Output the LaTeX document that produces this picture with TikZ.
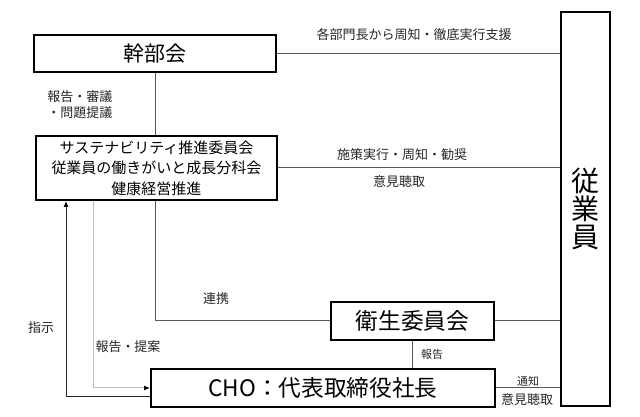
\documentclass[tikz,border=0pt]{standalone}
\usepackage{fontspec}
\setmainfont{Noto Sans CJK JP}
\usetikzlibrary{arrows.meta, positioning, calc}

\tikzset{
  box/.style={draw, line width=1.5pt, inner sep=0pt, align=center, fill=white},
  link/.style={draw=black!65, line width=0.75pt},
  tip/.style={-{Latex[length=4.5pt, width=3.75pt, color=black]}},
  lbl/.style={inner sep=0pt, text=black!85, font=\fontsize{9.75}{12}\selectfont},
}

\begin{document}
\begin{tikzpicture}[>=latex, x=0.75pt, y=-0.75pt]
        \path[use as bounding box] (0,0) rectangle (640,417);
        % boxes
        \node[box, minimum width=181.5pt, minimum height=27.75pt, font=\fontsize{15.75}{18}\selectfont] (kanbu) at (155,53.5) {幹部会};
        \node[box, minimum width=180.75pt, minimum height=48pt, font=\fontsize{11.25}{15.4}\selectfont] (susta) at (156.5,168) {サステナビリティ推進委員会\\従業員の働きがいと成長分科会\\健康経営推進};
        \node[box, minimum width=36.75pt, minimum height=295.5pt, font=\fontsize{21}{21}\selectfont] (jugyo) at (585.5,209) {従\\業\\員};
        \node[box, minimum width=122.25pt, minimum height=28.5pt, font=\fontsize{17}{20}\selectfont] (eisei) at (412.5,321) {衛生委員会};
        \node[box, minimum width=258pt, minimum height=28.5pt, font=\fontsize{17}{20}\selectfont] (cho) at (323,388) {CHO：代表取締役社長};
        % connectors
        \draw[link] (kanbu.east) -- (kanbu.east -| jugyo.west);
        \draw[link] (kanbu.south) -- (kanbu.south |- susta.north);
        \draw[link] (susta.east) -- (susta.east -| jugyo.west);
        \draw[link] (kanbu.south |- susta.south) -- (kanbu.south |- eisei.west) -- (eisei.west);
        \draw[link] (eisei.east) -- (eisei.east -| jugyo.west);
        \draw[link] (eisei.south) -- (eisei.south |- cho.north);
        \draw[link] (cho.east) -- (cho.east -| jugyo.west);
        \coordinate (shiji) at ([xshift=23.25pt]susta.south west);
        \coordinate (teian) at ([xshift=43.5pt]susta.south west);
        \draw[link, draw=black!85, tip] ([yshift=-6.75pt]cho.west) -| (shiji);
        \draw[link, draw=black!25, tip] (teian) |- (cho.west);
        % labels
        \node[lbl] (l1) at (414,35) {各部門長から周知・徹底実行支援};
        \node[lbl, align=right] (l2) at (80,105) {報告・審議\\・問題提議};
        \node[lbl] (l3) at (402,155) {施策実行・周知・勧奨};
        \node[lbl] (l4) at (399,182) {意見聴取};
        \node[lbl] (l5) at (216,299) {連携};
        \node[lbl] (l6) at (41,328) {指示};
        \node[lbl] (l7) at (128,347) {報告・提案};
        \node[lbl, font=\fontsize{8.25}{10}\selectfont] (l8) at (432,354) {報告};
        \node[lbl, font=\fontsize{8.25}{10}\selectfont] (l9) at (528,381) {通知};
        \node[lbl] (l10) at (527,400) {意見聴取};
\end{tikzpicture}
\end{document}
